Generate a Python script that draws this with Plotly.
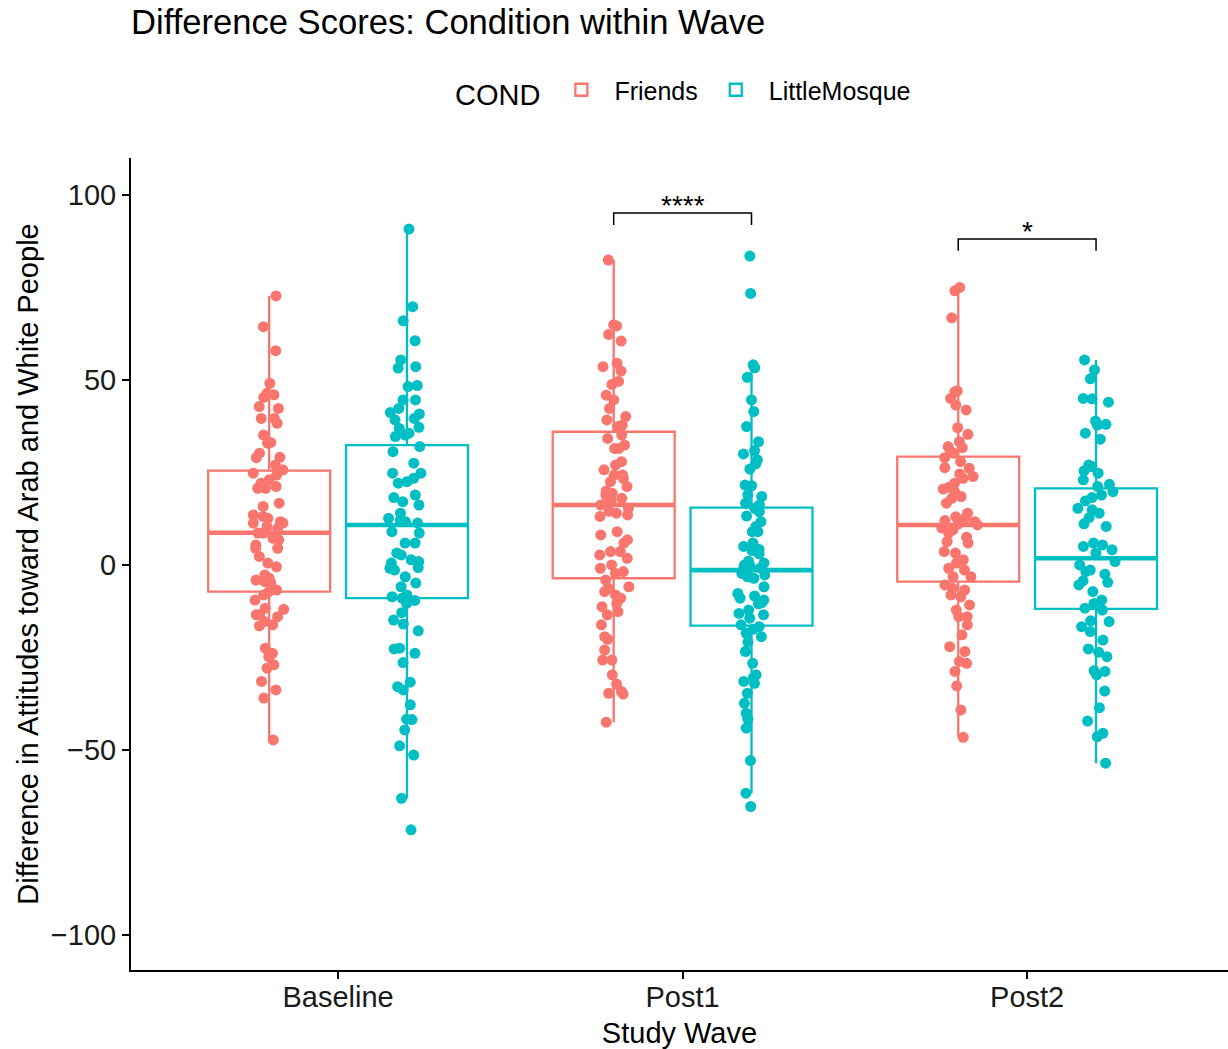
import plotly.graph_objects as go

# ---------------- data ----------------
waves = ["Baseline", "Post1", "Post2"]
conds = ["Friends", "LittleMosque"]

baseline_friends = [72.7, 64.4, 57.9, 49.1, 46.0, 46.4, 45.3, 42.3, 42.8, 39.6, 39.6, 38.3, 35.1, 33.1,
                    32.9, 30.2, 29.1, 29.0, 27.0, 25.7, 24.8, 24.3, 23.0, 22.1, 21.2, 20.7, 20.7, 16.7,
                    15.8, 13.5, 13.1, 12.6, 11.3, 11.3, 11.7, 10.4, 9.9, 8.6, 8.6, 7.2, 6.8, 5.4, 4.5,
                    4.5, 2.3, 0.5, -0.5, -2.7, -3.6, -4.1, -4.5, -4.9, -6.8, -7.2, -8.1, -9.5, -11.7,
                    -12.0, -13.5, -13.5, -14.0, -15.3, -16.2, -16.5, -22.5, -23.9, -24.8, -27.0, -27.9,
                    -31.5, -33.8, -36.0, -47.3]
baseline_lm = [90.8, 69.8, 66.0, 60.6, 55.4, 53.6, 53.2, 48.5, 48.2, 44.6, 44.6, 42.3, 41.2, 40.8, 39.6,
               39.2, 37.2, 36.9, 35.6, 35.1, 34.7, 32.0, 30.6, 27.5, 24.8, 24.8, 23.4, 22.5, 22.1, 18.9,
               18.2, 17.1, 16.2, 14.0, 12.6, 12.2, 11.7, 11.3, 9.0, 8.6, 5.9, 5.9, 3.2, 2.7, 1.4, 0.9,
               0.5, -0.7, -0.9, -1.4, -3.2, -4.9, -5.9, -8.1, -8.6, -9.0, -9.5, -9.6, -10.4, -12.9,
               -14.9, -16.0, -17.8, -22.5, -22.7, -23.9, -26.4, -31.7, -32.9, -33.8, -37.8, -41.7,
               -41.8, -44.6, -48.9, -51.4, -63.1, -71.6]
post1_friends = [82.4, 64.9, 64.6, 62.3, 60.5, 54.5, 53.6, 52.4, 49.6, 48.8, 45.9, 44.6, 42.3, 40.1,
                 39.2, 37.8, 37.4, 35.1, 34.2, 32.4, 31.5, 31.5, 27.9, 27.0, 25.7, 24.3, 24.3, 23.4,
                 22.5, 21.2, 20.0, 19.4, 18.9, 18.0, 17.5, 16.7, 16.2, 15.3, 14.5, 14.0, 13.1, 13.5,
                 9.0, 8.1, 6.8, 5.9, 3.6, 3.6, 2.7, 1.8, 0.0, -0.9, -1.8, -2.3, -4.1, -5.9, -6.3,
                 -7.2, -8.1, -9.0, -10.4, -11.3, -12.6, -13.5, -16.2, -19.4, -20.1, -23.0, -25.7,
                 -25.7, -29.7, -32.2, -34.2, -34.7, -34.9, -42.5]
post1_lm = [83.5, 73.4, 54.1, 53.3, 50.7, 44.6, 41.5, 37.4, 33.3, 30.9, 30.0, 28.4, 27.3, 25.9, 21.6,
            21.4, 18.9, 18.5, 16.7, 16.2, 15.3, 14.4, 13.2, 11.7, 10.4, 9.0, 9.0, 5.9, 5.0, 4.2, 3.9,
            3.0, 1.0, 0.5, 0.0, -0.3, -0.5, -0.8, -1.0, -1.4, -2.3, -2.7, -3.2, -3.6, -5.9, -7.7,
            -8.4, -9.0, -9.5, -10.2, -10.5, -12.2, -13.1, -13.5, -14.4, -16.2, -16.7, -17.4, -18.5,
            -19.4, -20.9, -23.4, -26.6, -29.7, -30.4, -31.5, -32.0, -34.7, -37.4, -40.1, -41.7,
            -44.1, -52.9, -61.7, -65.3]
post2_friends = [75.0, 74.1, 66.8, 46.8, 47.0, 45.0, 43.2, 41.9, 37.1, 35.3, 33.3, 32.0, 31.7, 30.6,
                 30.2, 29.0, 27.9, 26.3, 26.1, 24.6, 23.9, 23.4, 22.1, 21.0, 20.5, 19.8, 18.5, 18.0,
                 16.7, 14.0, 13.0, 12.6, 12.0, 11.7, 11.0, 10.8, 10.0, 9.5, 8.6, 7.5, 6.3, 5.9, 3.6,
                 3.2, 1.4, 0.5, -0.9, -1.4, -3.2, -3.2, -5.4, -6.3, -6.8, -8.1, -8.6, -10.8, -12.2,
                 -14.0, -14.0, -16.2, -18.9, -22.1, -23.4, -26.1, -26.6, -28.8, -32.7, -39.2, -46.6]
post2_lm = [55.4, 52.7, 50.3, 45.0, 44.9, 44.0, 38.9, 38.0, 37.8, 35.6, 34.0, 27.0, 26.6, 25.4, 24.8,
            23.0, 21.8, 21.2, 19.8, 18.9, 18.2, 17.3, 15.3, 14.9, 14.0, 12.8, 11.1, 10.4, 5.9, 5.4,
            5.0, 4.1, 3.2, 0.9, 0.0, -1.4, -1.8, -2.5, -4.3, -4.7, -5.4, -7.2, -9.5, -10.4, -11.7,
            -12.2, -15.3, -15.1, -16.7, -18.0, -20.3, -22.7, -23.6, -24.8, -28.6, -28.8, -29.7,
            -34.1, -38.6, -42.2, -45.5, -46.4, -53.6]

points = {
    "Friends": [baseline_friends, post1_friends, post2_friends],
    "LittleMosque": [baseline_lm, post1_lm, post2_lm],
}

# box statistics (per wave)
friends_q1 = [-7.2, -3.6, -4.5]
friends_median = [8.7, 16.2, 10.8]
friends_q3 = [25.5, 36.0, 29.3]
friends_lower = [-47.3, -42.5, -46.6]
friends_upper = [72.7, 82.4, 75.0]
lm_q1 = [-9.0, -16.4, -11.9]
lm_median = [10.8, -1.4, 1.8]
lm_q3 = [32.4, 15.5, 20.7]
lm_lower = [-63.1, -61.7, -53.6]
lm_upper = [90.8, 54.1, 55.4]

stats = {
    "Friends": dict(q1=friends_q1, median=friends_median, q3=friends_q3,
                    lowerfence=friends_lower, upperfence=friends_upper),
    "LittleMosque": dict(q1=lm_q1, median=lm_median, q3=lm_q3,
                         lowerfence=lm_lower, upperfence=lm_upper),
}

# significance brackets
sig_waves = [1, 2]
sig_labels = ["****", "*"]
sig_y = [95.1, 88.1]

# ---------------- style ----------------
colors = {"Friends": "#F8766D", "LittleMosque": "#00BFC4"}
dodge = {"Friends": -0.2, "LittleMosque": 0.2}
BOX_W = 0.354
FONT = "Liberation Sans, Arial, sans-serif"
TRANSPARENT = "rgba(0,0,0,0)"

fig = go.Figure()

for c in conds:
    pos = [i + dodge[c] for i in range(len(waves))]
    s = stats[c]
    # box with whiskers
    fig.add_trace(go.Box(
        x=pos, q1=s["q1"], median=s["median"], q3=s["q3"],
        lowerfence=s["lowerfence"], upperfence=s["upperfence"],
        width=BOX_W, whiskerwidth=0, boxpoints=False,
        line=dict(color=colors[c], width=2.3), fillcolor="white",
        name=c, legendgroup=c, showlegend=True,
    ))
    # thick median line (ggplot style)
    fig.add_trace(go.Box(
        x=pos, q1=s["median"], median=s["median"], q3=s["median"],
        lowerfence=s["median"], upperfence=s["median"],
        width=BOX_W, whiskerwidth=0, boxpoints=False,
        line=dict(color=colors[c], width=4.6), fillcolor=TRANSPARENT,
        name=c, legendgroup=c, showlegend=False, hoverinfo="skip",
    ))

for c in conds:
    xs, ys = [], []
    for i, vals in enumerate(points[c]):
        xs += [i + dodge[c]] * len(vals)
        ys += vals
    fig.add_trace(go.Box(
        x=xs, y=ys, width=BOX_W, boxpoints="all", jitter=0.33, pointpos=0,
        line=dict(color=TRANSPARENT, width=0), fillcolor=TRANSPARENT,
        marker=dict(color=colors[c], size=11, opacity=1, line=dict(width=0)),
        name=c, legendgroup=c, showlegend=False,
    ))

for w, lab, y in zip(sig_waves, sig_labels, sig_y):
    x0, x1 = w + dodge["Friends"], w + dodge["LittleMosque"]
    tip = y - 3.2
    fig.add_shape(type="path", xref="x", yref="y",
                  path=f"M {x0},{tip} L {x0},{y} L {x1},{y} L {x1},{tip}",
                  line=dict(color="black", width=1.5))
    fig.add_annotation(x=w, y=y, xref="x", yref="y", text=lab, showarrow=False,
                       yanchor="bottom", yshift=-10,
                       font=dict(family=FONT, size=28, color="black"))

fig.update_layout(
    width=1228, height=1049,
    margin=dict(l=131, r=0, t=158, b=79),
    paper_bgcolor="white", plot_bgcolor="white",
    boxmode="overlay",
    font=dict(family=FONT, color="black"),
    title=dict(text="Difference Scores: Condition within Wave", x=131 / 1228, xref="container",
               xanchor="left", y=1 - 22 / 1049, yref="container", yanchor="middle",
               font=dict(family=FONT, size=34.6, color="black")),
    legend=dict(orientation="h", x=0.5 + 5 / 1097, xanchor="center", y=1 + 67 / 812, yanchor="middle",
                title=dict(text="COND", side="left", font=dict(family=FONT, size=29, color="black")),
                font=dict(family=FONT, size=25, color="black"), itemwidth=56,
                bgcolor=TRANSPARENT),
    xaxis=dict(range=[-0.601, 2.583], tickvals=list(range(len(waves))), ticktext=waves,
               showgrid=False, zeroline=False, showline=True, linecolor="black", linewidth=2,
               ticks="outside", ticklen=7, tickwidth=2, tickcolor="black",
               ticklabelstandoff=-7,
               tickfont=dict(family=FONT, size=29, color="#1a1a1a"),
               title=dict(text="Study Wave", standoff=13, font=dict(family=FONT, size=29, color="black"))),
    yaxis=dict(range=[-109.5, 110], tickvals=[-100, -50, 0, 50, 100],
               showgrid=False, zeroline=False, showline=True, linecolor="black", linewidth=2,
               ticks="outside", ticklen=7, tickwidth=2, tickcolor="black",
               tickfont=dict(family=FONT, size=29, color="#1a1a1a"),
               title=dict(text="Difference in Attitudes toward Arab and White People", standoff=4,
                          font=dict(family=FONT, size=29, color="black"))),
)

fig.write_html("out.html", config={"displayModeBar": False},
               post_script="document.body.style.margin='0';document.body.style.overflow='hidden';")
